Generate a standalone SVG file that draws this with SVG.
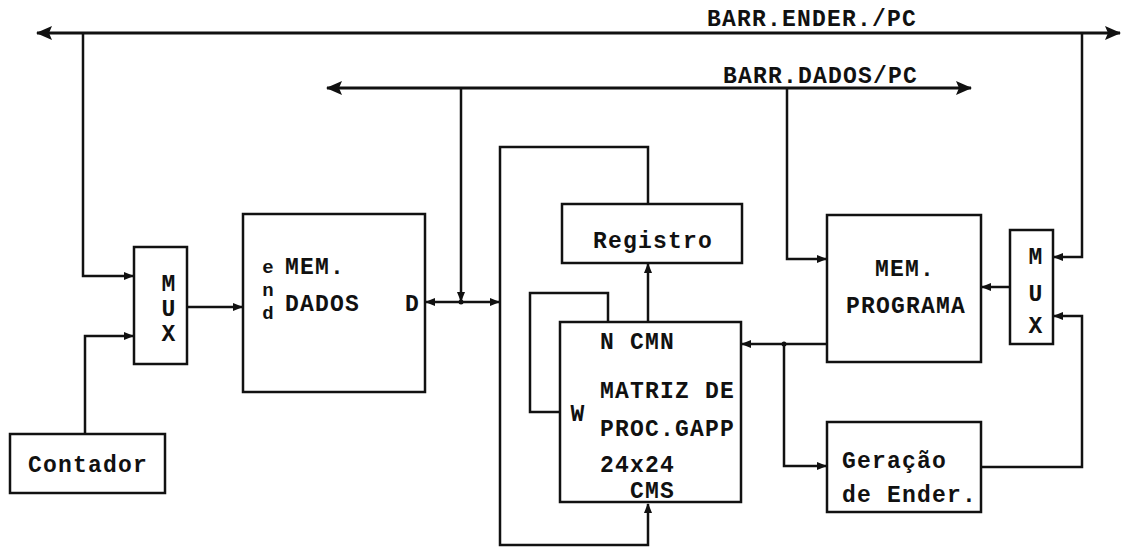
<svg xmlns="http://www.w3.org/2000/svg" width="1124" height="548" viewBox="0 0 1124 548">
<defs>
<marker id="a" markerUnits="userSpaceOnUse" markerWidth="10" markerHeight="8" refX="9" refY="4" orient="auto-start-reverse"><path d="M0,0 L10,4 L0,8 Z" fill="#111"/></marker>
<marker id="b" markerUnits="userSpaceOnUse" markerWidth="16" markerHeight="14" refX="15" refY="7" orient="auto-start-reverse"><path d="M0,0 L16,7 L0,14 L3,7 Z" fill="#111"/></marker>
</defs>
<style>
.bx{fill:none;stroke:#111;stroke-width:2.5}
.ln{fill:none;stroke:#111;stroke-width:2.5}
.bus{fill:none;stroke:#111;stroke-width:3}
text{font-family:"Liberation Mono","Courier New",monospace;font-weight:bold;font-size:23px;fill:#111;letter-spacing:1.2px}
.c{text-anchor:middle}
.s{font-size:19px;letter-spacing:0}
</style>
<rect width="1124" height="548" fill="#fff"/>
<g id="connectors">
<line class="bus" x1="37" y1="33" x2="1120" y2="33" marker-start="url(#b)" marker-end="url(#b)"/>
<line class="bus" x1="327" y1="88" x2="971" y2="88" marker-start="url(#b)" marker-end="url(#b)"/>
<path class="ln" d="M83,33 V276 H133" marker-end="url(#a)"/>
<path class="ln" d="M85,434 V336 H133" marker-end="url(#a)"/>
<path class="ln" d="M187,307 H242" marker-end="url(#a)"/>
<path class="ln" d="M426,302 H499" marker-start="url(#a)" marker-end="url(#a)"/>
<path class="ln" d="M461,88 V301" marker-end="url(#a)"/>
<path class="ln" d="M648,204 V147 H500 V545 H648 V504" marker-end="url(#a)"/>
<path class="ln" d="M648,322 V264" marker-end="url(#a)"/>
<path class="ln" d="M608,322 V293 H530 V412 H560"/>
<path class="ln" d="M826,344 H742" marker-end="url(#a)"/>
<path class="ln" d="M784,344 V466 H826" marker-end="url(#a)"/>
<path class="ln" d="M787,88 V259 H826" marker-end="url(#a)"/>
<path class="ln" d="M1010,287 H982" marker-end="url(#a)"/>
<path class="ln" d="M1082,33 V257 H1054" marker-end="url(#a)"/>
<path class="ln" d="M981,467 H1082 V316 H1054" marker-end="url(#a)"/>
<circle cx="461" cy="302" r="2.5" fill="#111"/>
<circle cx="784" cy="344" r="2.5" fill="#111"/>
</g>
<g id="labels">
<text x="707" y="26">BARR.ENDER./PC</text>
<text x="723" y="83">BARR.DADOS/PC</text>
</g>
<g id="contador">
<rect class="bx" x="10" y="434" width="155" height="59"/>
<text class="c" x="88" y="472">Contador</text>
</g>
<g id="mux1">
<rect class="bx" x="134" y="247" width="53" height="117"/>
<text class="c" x="169" y="291">M</text>
<text class="c" x="169" y="316">U</text>
<text class="c" x="169" y="341">X</text>
</g>
<g id="memdados">
<rect class="bx" x="243" y="214" width="182" height="178"/>
<text class="c s" x="268" y="273">e</text>
<text class="c s" x="268" y="296">n</text>
<text class="c s" x="268" y="319">d</text>
<text x="285" y="274">MEM.</text>
<text x="285" y="311">DADOS</text>
<text x="405" y="311">D</text>
</g>
<g id="registro">
<rect class="bx" x="562" y="204" width="180" height="59"/>
<text class="c" x="653" y="248">Registro</text>
</g>
<g id="matriz">
<rect class="bx" x="560" y="322" width="181" height="180"/>
<text x="600" y="349">N CMN</text>
<text x="600" y="398">MATRIZ DE</text>
<text x="600" y="436">PROC.GAPP</text>
<text x="600" y="472">24x24</text>
<text x="630" y="498">CMS</text>
<text class="c" x="578" y="421">W</text>
</g>
<g id="memprograma">
<rect class="bx" x="827" y="215" width="154" height="147"/>
<text class="c" x="905" y="276">MEM.</text>
<text class="c" x="906" y="313">PROGRAMA</text>
</g>
<g id="mux2">
<rect class="bx" x="1010" y="230" width="43" height="114"/>
<text class="c" x="1036" y="264">M</text>
<text class="c" x="1036" y="301">U</text>
<text class="c" x="1036" y="333">X</text>
</g>
<g id="geracao">
<rect class="bx" x="827" y="422" width="154" height="90"/>
<text x="842" y="468">Geração</text>
<text x="842" y="502">de Ender.</text>
</g>
</svg>
